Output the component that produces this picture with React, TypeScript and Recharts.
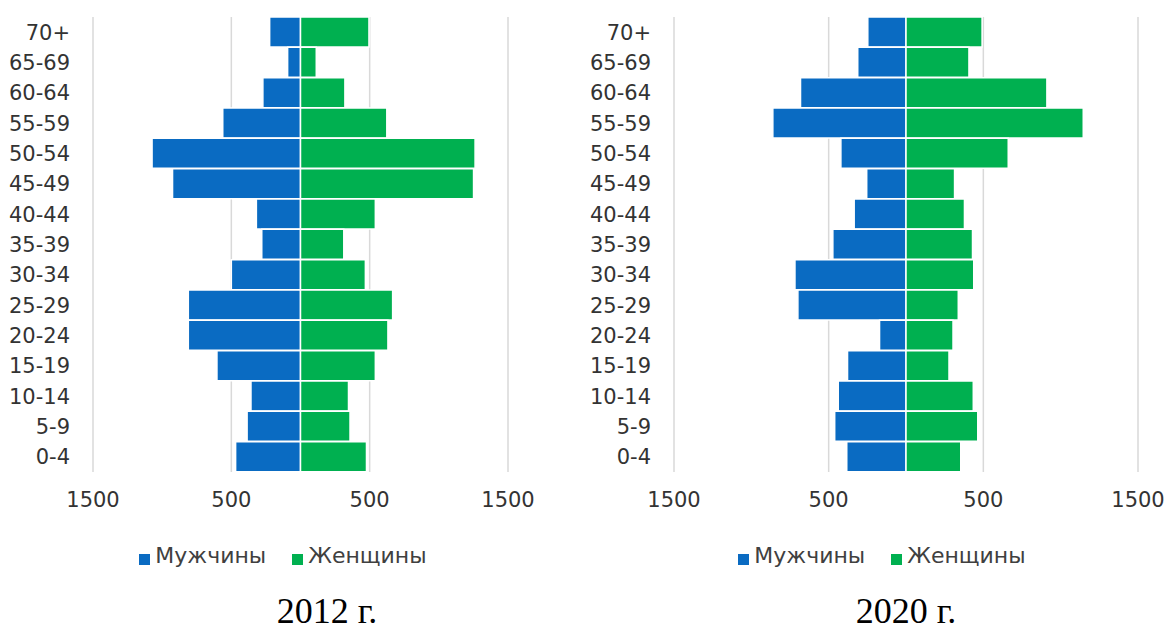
import React from "react";
import {
  BarChart,
  Bar,
  XAxis,
  YAxis,
  CartesianGrid,
  Legend,
} from "recharts";

// age groups, top of the pyramid first
const ageGroups = [
  "70+", "65-69", "60-64", "55-59", "50-54", "45-49", "40-44", "35-39",
  "30-34", "25-29", "20-24", "15-19", "10-14", "5-9", "0-4",
];

const male2012 = [223, 93, 272, 562, 1073, 925, 319, 280, 500, 811, 811, 604, 358, 386, 469];
const female2012 = [495, 114, 321, 624, 1262, 1251, 541, 313, 469, 666, 632, 541, 347, 358, 477];

const male2020 = [247, 312, 682, 861, 421, 254, 335, 473, 718, 699, 171, 378, 438, 461, 383];
const female2020 = [492, 407, 911, 1146, 661, 314, 378, 430, 438, 338, 304, 278, 435, 464, 354];

const xTicks = [-1500, -500, 500, 1500];

const BLUE = "#0A6BC2";
const GREEN = "#00B050";
const FONT = "'DejaVu Sans', sans-serif";

interface PyramidProps {
  male: number[];
  female: number[];
  left: number;
  width: number;
  yAxisWidth: number;
  marginRight: number;
  legendWidth: number;
  title: string;
  titleCenter: number;
}

function Pyramid({
  male,
  female,
  left,
  width,
  yAxisWidth,
  marginRight,
  legendWidth,
  title,
  titleCenter,
}: PyramidProps) {
  const rows = ageGroups.map((age, i) => ({
    age,
    male: -male[i],
    female: female[i],
  }));

  return (
    <>
      <div style={{ position: "absolute", left, top: 0 }}>
        <BarChart
          layout="vertical"
          data={rows}
          width={width}
          height={580}
          margin={{ top: 17, right: marginRight, bottom: 68, left: 0 }}
          stackOffset="sign"
          barCategoryGap={0}
        >
          <CartesianGrid horizontal={false} stroke="#d9d9d9" strokeWidth={1.5} />
          <XAxis
            type="number"
            domain={[-1500, 1500]}
            ticks={xTicks}
            tickFormatter={(v: number) => String(Math.abs(v))}
            axisLine={false}
            tickLine={false}
            height={40}
            tickMargin={14}
            tick={{ fontSize: 21, fill: "#333", fontFamily: FONT }}
          />
          <YAxis
            type="category"
            dataKey="age"
            width={yAxisWidth}
            axisLine={false}
            tickLine={false}
            tickMargin={17}
            interval={0}
            tick={{ fontSize: 21, fill: "#333", fontFamily: FONT }}
          />
          <Legend
            layout="horizontal"
            verticalAlign="middle"
            align="center"
            iconType="square"
            iconSize={11}
            itemSorter={(item: any) => (item.dataKey === "male" ? 0 : 1)}
            wrapperStyle={{ top: 543, left: 0, width: legendWidth }}
            formatter={(value: string) => (
              <span
                style={{
                  color: "#404040",
                  fontSize: 22,
                  fontFamily: FONT,
                  marginRight: 16,
                  marginLeft: 1,
                }}
              >
                {value}
              </span>
            )}
          />
          <Bar
            dataKey="male"
            name="Мужчины"
            stackId="a"
            fill={BLUE}
            stroke="#ffffff"
            strokeWidth={1.5}
            isAnimationActive={false}
          />
          <Bar
            dataKey="female"
            name="Женщины"
            stackId="a"
            fill={GREEN}
            stroke="#ffffff"
            strokeWidth={1.5}
            isAnimationActive={false}
          />
        </BarChart>
      </div>
      <div
        style={{
          position: "absolute",
          top: 593,
          left: titleCenter - 150,
          width: 300,
          textAlign: "center",
          fontFamily: "'Liberation Serif', serif",
          fontSize: 36,
          lineHeight: 1,
          color: "#000",
        }}
      >
        {title}
      </div>
    </>
  );
}

export default function App() {
  return (
    <div
      style={{
        position: "absolute",
        left: 0,
        top: 0,
        width: 1166,
        height: 630,
        background: "#fff",
        overflow: "hidden",
      }}
    >
      <Pyramid
        male={male2012}
        female={female2012}
        left={0}
        width={540}
        yAxisWidth={93}
        marginRight={32}
        legendWidth={592}
        title="2012 г."
        titleCenter={327}
      />
      <Pyramid
        male={male2020}
        female={female2020}
        left={590}
        width={576}
        yAxisWidth={84}
        marginRight={28}
        legendWidth={610}
        title="2020 г."
        titleCenter={906}
      />
    </div>
  );
}
